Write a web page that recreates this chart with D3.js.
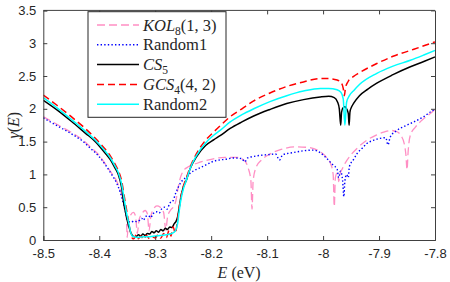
<!DOCTYPE html>
<html>
<head>
<meta charset="utf-8">
<script src="https://cdn.jsdelivr.net/npm/d3@7"></script>
<style>
  body { margin: 0; background: #fff; }
  svg { display: block; }
  .tick text { font-family: "Liberation Sans", Arial, sans-serif; font-size: 13px; fill: #262626; }
</style>
</head>
<body>
<svg id="chart" width="450" height="282"></svg>
<script>
// ---- data: [E (eV), gamma(E)] ----
const kol8 = [
    [-8.5,1.88],[-8.475,1.76],[-8.446,1.62],[-8.43,1.53],[-8.416,1.42],[-8.4,1.29],[-8.387,1.13],
    [-8.378,1.02],[-8.369,0.9],[-8.362,0.75],[-8.357,0.6],[-8.354,0.48],[-8.352,0.42],[-8.350,0.04],
    [-8.348,0.3],[-8.344,0.38],[-8.339,0.42],[-8.335,0.36],[-8.332,0.1],[-8.329,0.3],[-8.324,0.4],
    [-8.318,0.45],[-8.314,0.4],[-8.311,0.14],[-8.308,0.35],[-8.303,0.47],[-8.297,0.52],[-8.291,0.5],
    [-8.285,0.42],[-8.281,0.15],[-8.278,0.35],[-8.273,0.45],[-8.268,0.5],[-8.263,0.6],[-8.259,0.8],
    [-8.255,0.95],[-8.25,1.05],[-8.24,1.12],[-8.225,1.17],[-8.2,1.23],[-8.175,1.26],[-8.155,1.26],
    [-8.142,1.22],[-8.134,1.1],[-8.129,0.9],[-8.127,0.47],[-8.125,0.9],[-8.12,1.1],[-8.11,1.22],
    [-8.095,1.31],[-8.075,1.38],[-8.05,1.42],[-8.025,1.41],[-8.008,1.36],[-7.995,1.27],[-7.986,1.15],
    [-7.982,1.0],[-7.980,0.51],[-7.978,0.95],[-7.975,1.02],[-7.973,0.95],[-7.972,0.89],[-7.970,1.0],
    [-7.966,1.08],[-7.96,1.18],[-7.95,1.3],[-7.939,1.4],[-7.922,1.52],[-7.905,1.6],[-7.89,1.65],
    [-7.878,1.67],[-7.868,1.65],[-7.86,1.58],[-7.855,1.47],[-7.852,1.3],[-7.850,1.07],[-7.848,1.35],
    [-7.844,1.6],[-7.835,1.72],[-7.82,1.85],[-7.805,1.95],[-7.8,1.99]
];
const random1 = [
    [-8.5,1.86],[-8.475,1.74],[-8.446,1.6],[-8.43,1.51],[-8.416,1.4],[-8.4,1.27],[-8.387,1.12],
    [-8.378,1.0],[-8.369,0.87],[-8.363,0.74],[-8.357,0.56],[-8.353,0.42],[-8.35,0.32],[-8.347,0.28],
    [-8.343,0.27],[-8.338,0.29],[-8.333,0.28],[-8.328,0.3],[-8.324,0.33],[-8.321,0.3],[-8.317,0.36],
    [-8.312,0.37],[-8.308,0.34],[-8.304,0.4],[-8.298,0.43],[-8.293,0.41],[-8.288,0.48],[-8.283,0.5],
    [-8.279,0.47],[-8.274,0.56],[-8.268,0.6],[-8.264,0.7],[-8.259,0.8],[-8.254,0.88],[-8.247,0.94],
    [-8.24,1.0],[-8.23,1.06],[-8.22,1.1],[-8.208,1.15],[-8.196,1.2],[-8.185,1.22],[-8.175,1.23],
    [-8.16,1.25],[-8.145,1.24],[-8.14,1.19],[-8.135,1.25],[-8.12,1.28],[-8.1,1.3],[-8.085,1.31],
    [-8.078,1.22],[-8.072,1.3],[-8.055,1.33],[-8.035,1.36],[-8.017,1.37],[-8.005,1.33],[-7.993,1.24],
    [-7.982,1.14],[-7.975,1.08],[-7.972,0.95],[-7.969,1.05],[-7.965,0.9],[-7.963,0.66],[-7.961,0.9],
    [-7.958,1.0],[-7.955,0.95],[-7.953,1.12],[-7.946,1.22],[-7.939,1.32],[-7.93,1.4],[-7.922,1.47],
    [-7.91,1.52],[-7.898,1.55],[-7.888,1.56],[-7.884,1.45],[-7.88,1.57],[-7.868,1.67],[-7.853,1.74],
    [-7.838,1.8],[-7.82,1.88],[-7.805,1.97],[-7.8,1.99]
];
const cs5 = [
    [-8.5,2.13],[-8.475,1.98],[-8.45,1.81],[-8.425,1.63],[-8.407,1.5],[-8.39,1.33],[-8.38,1.22],
    [-8.372,1.1],[-8.366,1.0],[-8.36,0.8],[-8.356,0.55],[-8.353,0.42],[-8.35,0.3],[-8.347,0.2],
    [-8.343,0.1],[-8.34,0.06],[-8.337,0.05],[-8.333,0.06],[-8.33,0.08],[-8.326,0.06],[-8.322,0.09],
    [-8.318,0.07],[-8.314,0.1],[-8.31,0.09],[-8.306,0.13],[-8.302,0.11],[-8.298,0.14],[-8.294,0.12],
    [-8.29,0.16],[-8.286,0.14],[-8.282,0.18],[-8.278,0.16],[-8.274,0.2],[-8.27,0.19],[-8.266,0.25],
    [-8.263,0.28],[-8.26,0.35],[-8.257,0.5],[-8.254,0.66],[-8.25,0.8],[-8.244,0.92],[-8.238,1.08],
    [-8.226,1.27],[-8.21,1.44],[-8.195,1.53],[-8.184,1.59],[-8.166,1.7],[-8.145,1.8],[-8.124,1.89],
    [-8.095,1.99],[-8.065,2.08],[-8.035,2.14],[-8.005,2.18],[-7.99,2.19],[-7.98,2.17],[-7.974,2.1],
    [-7.971,2.0],[-7.9685,1.75],[-7.967,1.95],[-7.964,2.02],[-7.961,2.03],[-7.958,2.0],[-7.955,1.93],
    [-7.9535,1.75],[-7.952,1.95],[-7.949,2.03],[-7.945,2.09],[-7.935,2.2],[-7.92,2.3],[-7.904,2.39],
    [-7.875,2.52],[-7.844,2.64],[-7.82,2.72],[-7.8,2.79]
];
const gcs4 = [
    [-8.5,2.21],[-8.475,2.05],[-8.45,1.88],[-8.425,1.7],[-8.407,1.55],[-8.39,1.39],[-8.38,1.28],
    [-8.372,1.16],[-8.366,1.06],[-8.36,0.9],[-8.355,0.65],[-8.35,0.4],[-8.346,0.2],[-8.343,0.08],
    [-8.34,0.02],[-8.338,0.02],[-8.334,0.08],[-8.33,0.02],[-8.326,0.06],[-8.32,0.01],[-8.316,0.07],
    [-8.31,0.02],[-8.305,0.05],[-8.3,0.03],[-8.295,0.08],[-8.29,0.03],[-8.285,0.1],[-8.28,0.04],
    [-8.275,0.15],[-8.272,0.06],[-8.268,0.2],[-8.264,0.1],[-8.261,0.25],[-8.258,0.45],[-8.255,0.62],
    [-8.251,0.78],[-8.245,0.93],[-8.238,1.1],[-8.226,1.32],[-8.21,1.52],[-8.195,1.65],[-8.184,1.74],
    [-8.166,1.88],[-8.145,2.0],[-8.124,2.12],[-8.095,2.24],[-8.065,2.34],[-8.035,2.41],[-8.005,2.46],
    [-7.99,2.46],[-7.975,2.44],[-7.968,2.4],[-7.964,2.31],[-7.962,2.2],[-7.96,2.32],[-7.955,2.42],
    [-7.946,2.49],[-7.935,2.55],[-7.904,2.69],[-7.875,2.8],[-7.844,2.89],[-7.82,2.96],[-7.8,3.02]
];
const random2 = [
    [-8.5,2.17],[-8.475,2.01],[-8.45,1.84],[-8.425,1.66],[-8.407,1.52],[-8.39,1.36],[-8.38,1.25],
    [-8.372,1.13],[-8.366,1.03],[-8.36,0.85],[-8.355,0.6],[-8.351,0.4],[-8.347,0.25],[-8.344,0.12],
    [-8.341,0.06],[-8.338,0.05],[-8.33,0.04],[-8.32,0.05],[-8.31,0.05],[-8.3,0.06],[-8.29,0.07],
    [-8.28,0.08],[-8.27,0.1],[-8.264,0.14],[-8.26,0.25],[-8.257,0.45],[-8.254,0.62],[-8.25,0.77],
    [-8.244,0.92],[-8.238,1.08],[-8.226,1.29],[-8.21,1.48],[-8.195,1.6],[-8.184,1.67],[-8.166,1.8],
    [-8.145,1.91],[-8.124,2.0],[-8.095,2.11],[-8.065,2.2],[-8.035,2.27],[-8.005,2.31],[-7.99,2.31],
    [-7.975,2.29],[-7.968,2.25],[-7.964,2.15],[-7.961,1.75],[-7.958,2.1],[-7.953,2.2],[-7.945,2.28],
    [-7.935,2.37],[-7.904,2.54],[-7.875,2.65],[-7.844,2.74],[-7.82,2.82],[-7.8,2.89]
];

const xTicks = [-8.5, -8.4, -8.3, -8.2, -8.1, -8, -7.9, -7.8];
const xTickLabels = ['-8.5', '-8.4', '-8.3', '-8.2', '-8.1', '-8', '-7.9', '-7.8'];
const yTicks = [0, 0.5, 1, 1.5, 2, 2.5, 3, 3.5];
const yTickLabels = ['0', '0.5', '1', '1.5', '2', '2.5', '3', '3.5'];

const series = [
    { data: kol8,    color: '#ff8fc4', width: 1.3, dash: '8,4' },
    { data: random1, color: '#0000ff', width: 1.4, dash: '1.4,2.2' },
    { data: cs5,     color: '#000000', width: 1.5, dash: null },
    { data: gcs4,    color: '#ff0000', width: 1.5, dash: '7,4' },
    { data: random2, color: '#00ffff', width: 1.5, dash: null }
];

// ---- layout ----
const m = { left: 43.3, right: 435, top: 10.4, bottom: 240 };
const svg = d3.select('#chart');

const x = d3.scaleLinear().domain([-8.5, -7.8]).range([m.left, m.right]);
const y = d3.scaleLinear().domain([0, 3.5]).range([m.bottom, m.top]);

svg.append('defs').append('clipPath').attr('id', 'plot-clip')
    .append('rect')
    .attr('x', m.left).attr('y', m.top)
    .attr('width', m.right - m.left).attr('height', m.bottom - m.top);

const line = d3.line()
    .x(d => x(d[0]))
    .y(d => y(d[1]))
    .curve(d3.curveMonotoneX);

const plot = svg.append('g').attr('clip-path', 'url(#plot-clip)');
series.forEach(s => {
    plot.append('path')
        .attr('d', line(s.data))
        .attr('fill', 'none')
        .attr('stroke', s.color)
        .attr('stroke-width', s.width)
        .attr('stroke-dasharray', s.dash);
});

// axes: ticks point inward, on all four sides
const axisColor = '#404040';
const gx = svg.append('g').attr('transform', `translate(0,${m.bottom})`)
    .call(d3.axisBottom(x).tickValues(xTicks).tickSize(-4).tickPadding(9)
        .tickFormat((d, i) => xTickLabels[i]));
const gy = svg.append('g').attr('transform', `translate(${m.left},0)`)
    .call(d3.axisLeft(y).tickValues(yTicks).tickSize(-4).tickPadding(7)
        .tickFormat((d, i) => yTickLabels[i]));
const gt = svg.append('g').attr('transform', `translate(0,${m.top})`)
    .call(d3.axisTop(x).tickValues(xTicks).tickSize(-4).tickFormat(''));
const gr = svg.append('g').attr('transform', `translate(${m.right},0)`)
    .call(d3.axisRight(y).tickValues(yTicks).tickSize(-4).tickFormat(''));

[gx, gy, gt, gr].forEach(g => {
    g.selectAll('.domain').attr('stroke', axisColor).attr('stroke-width', 1);
    g.selectAll('.tick line').attr('stroke', axisColor);
});
gt.select('.domain').remove();
gt.selectAll('.tick').filter((d, i) => i === 0 || i === xTicks.length - 1).remove();
gr.selectAll('.tick').filter((d, i) => i === 0 || i === yTicks.length - 1).remove();
svg.append('line')
    .attr('x1', m.left).attr('x2', m.right).attr('y1', m.top).attr('y2', m.top)
    .attr('stroke', axisColor);

// axis labels
const serif = '"Liberation Serif", "DejaVu Serif", serif';
const xl = svg.append('text')
    .attr('x', (m.left + m.right) / 2).attr('y', 278)
    .attr('text-anchor', 'middle')
    .style('font-family', serif).style('font-size', '16px').style('fill', '#262626');
xl.append('tspan').style('font-style', 'italic').text('E');
xl.append('tspan').text(' (eV)');

const yl = svg.append('text')
    .attr('transform', `translate(19,${(m.top + m.bottom) / 2}) rotate(-90)`)
    .attr('text-anchor', 'middle')
    .style('font-family', serif).style('font-size', '16px').style('fill', '#262626');
yl.append('tspan').style('font-style', 'italic').text('γ');
yl.append('tspan').text('(');
yl.append('tspan').style('font-style', 'italic').text('E');
yl.append('tspan').text(')');

// legend
const legend = svg.append('g');
legend.append('rect')
    .attr('x', 88).attr('y', 11.7).attr('width', 138).attr('height', 105.6)
    .attr('fill', '#fff').attr('stroke', '#262626').attr('stroke-width', 1);

const labels = [
    [['KOL', 'i'], ['8', 's'], ['(1, 3)', 'n']],
    [['Random1', 'n']],
    [['CS', 'i'], ['5', 's']],
    [['GCS', 'i'], ['4', 's'], ['(4, 2)', 'n']],
    [['Random2', 'n']]
];

series.forEach((s, i) => {
    const ly = 25 + i * 19.8;
    legend.append('line')
        .attr('x1', 97).attr('x2', 139).attr('y1', ly).attr('y2', ly)
        .attr('stroke', s.color)
        .attr('stroke-width', s.width)
        .attr('stroke-dasharray', s.dash);
    const t = legend.append('text')
        .attr('x', 143).attr('y', ly + 5.5)
        .style('font-family', serif).style('font-size', '16.5px').style('fill', '#262626');
    let shifted = false;
    labels[i].forEach(([str, kind]) => {
        const ts = t.append('tspan').text(str);
        if (kind === 'i') ts.style('font-style', 'italic');
        if (kind === 's') {
            ts.style('font-size', '11.5px').attr('dy', 4);
            shifted = true;
        } else if (shifted) {
            ts.attr('dy', -4);
            shifted = false;
        }
    });
});
</script>
</body>
</html>
